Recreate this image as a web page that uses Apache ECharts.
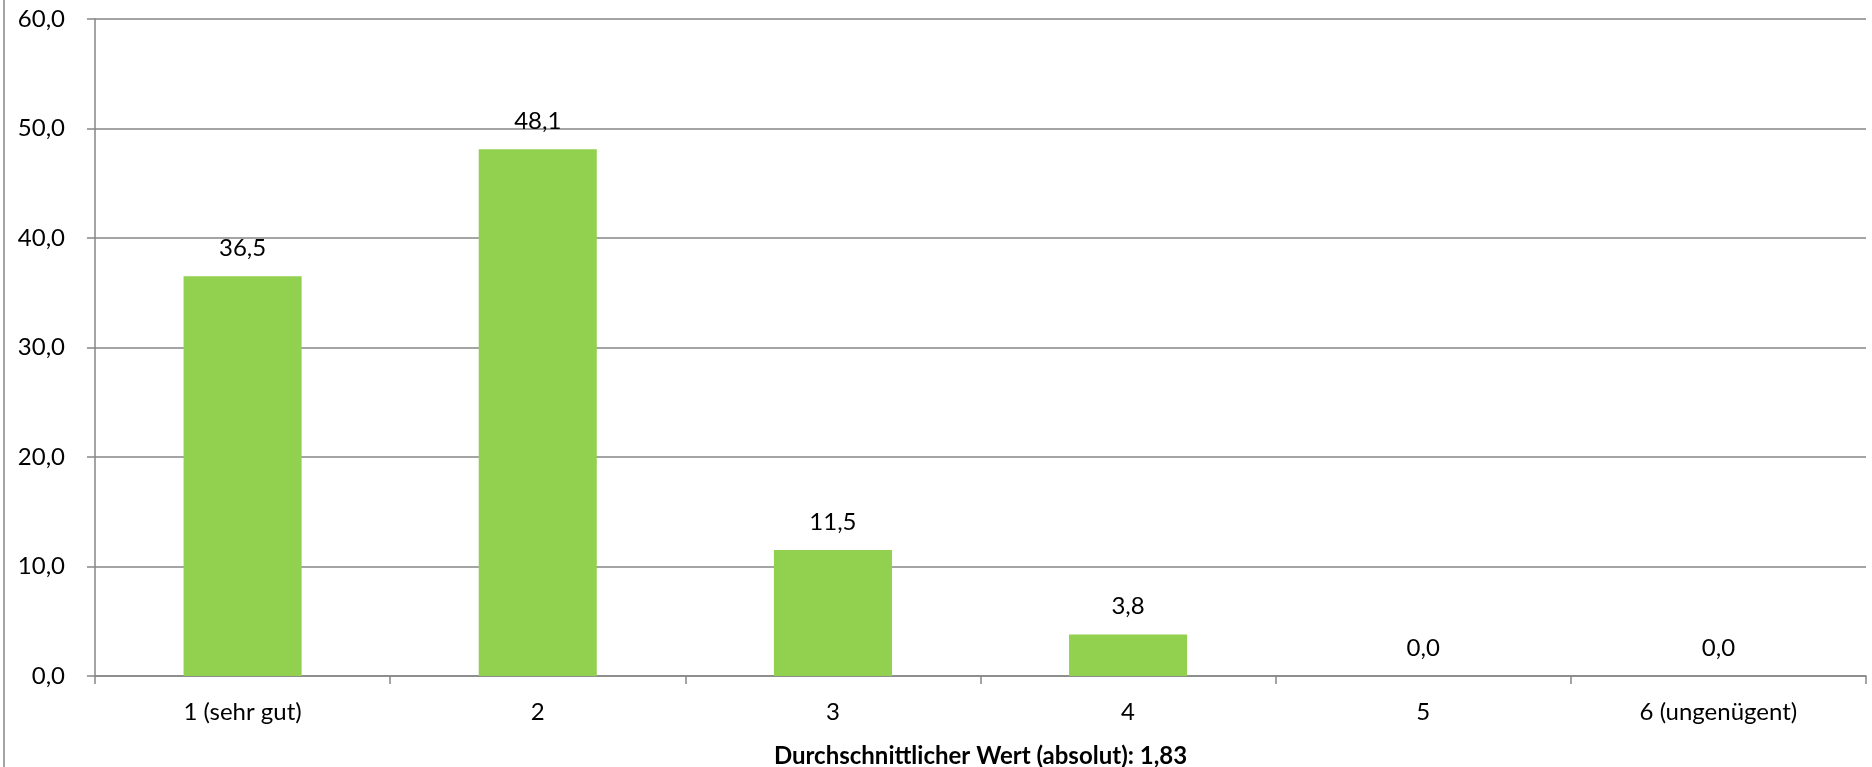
<!DOCTYPE html>
<html>
<head>
<meta charset="utf-8">
<script src="https://cdn.jsdelivr.net/npm/echarts@6/dist/echarts.min.js"></script>
<style>
  html, body { margin: 0; padding: 0; background: #fff; }
  #chart { width: 1872px; height: 767px; }
</style>
</head>
<body>
<div id="chart"></div>
<script>
// Grade distribution (percent) with the average grade as axis caption
const categories = ['1 (sehr gut)', '2', '3', '4', '5', '6 (ungenügent)'];
const shares = [36.5, 48.1, 11.5, 3.8, 0.0, 0.0];
const yTicks = { min: 0, max: 60, interval: 10 };
const caption = 'Durchschnittlicher Wert (absolut): 1,83';

const fmt = v => v.toFixed(1).replace('.', ',');
const FONT = 'Lato, "Liberation Sans", sans-serif';
const GRAY = '#868686';

const chart = echarts.init(document.getElementById('chart'), null, { renderer: 'canvas' });
chart.setOption({
  animation: false,
  backgroundColor: '#fff',
  textStyle: { fontFamily: FONT },
  grid: { left: 95, right: 6, top: 19, bottom: 91, containLabel: false, outerBoundsMode: 'none' },
  graphic: [{
    type: 'line',
    shape: { x1: 4, y1: 0, x2: 4, y2: 767 },
    style: { stroke: GRAY, lineWidth: 1.5 }
  }],
  xAxis: {
    type: 'category',
    data: categories,
    boundaryGap: true,
    axisLine: { show: true, lineStyle: { color: GRAY, width: 1.5 } },
    axisTick: { show: true, length: 8, inside: false, alignWithLabel: false, lineStyle: { color: GRAY, width: 1.5 } },
    axisLabel: { color: '#000', fontSize: 24, margin: 24, fontFamily: FONT },
    name: caption,
    nameLocation: 'middle',
    nameGap: 68,
    nameTextStyle: { color: '#000', fontSize: 24, fontWeight: 'bold', fontFamily: FONT }
  },
  yAxis: {
    type: 'value',
    min: yTicks.min,
    max: yTicks.max,
    interval: yTicks.interval,
    axisLine: { show: true, lineStyle: { color: GRAY, width: 1.5 } },
    axisTick: { show: true, length: 8, inside: false, lineStyle: { color: GRAY, width: 1.5 } },
    axisLabel: { color: '#000', fontSize: 24, margin: 30, formatter: fmt, fontFamily: FONT },
    splitLine: { show: true, lineStyle: { color: GRAY, width: 1.5 } }
  },
  series: [{
    type: 'bar',
    data: shares,
    barWidth: '40%',
    itemStyle: { color: '#92D050' },
    label: {
      show: true,
      position: 'top',
      distance: 16,
      color: '#000',
      fontSize: 24,
      fontFamily: FONT,
      formatter: p => fmt(p.value)
    }
  }]
});
</script>
</body>
</html>
